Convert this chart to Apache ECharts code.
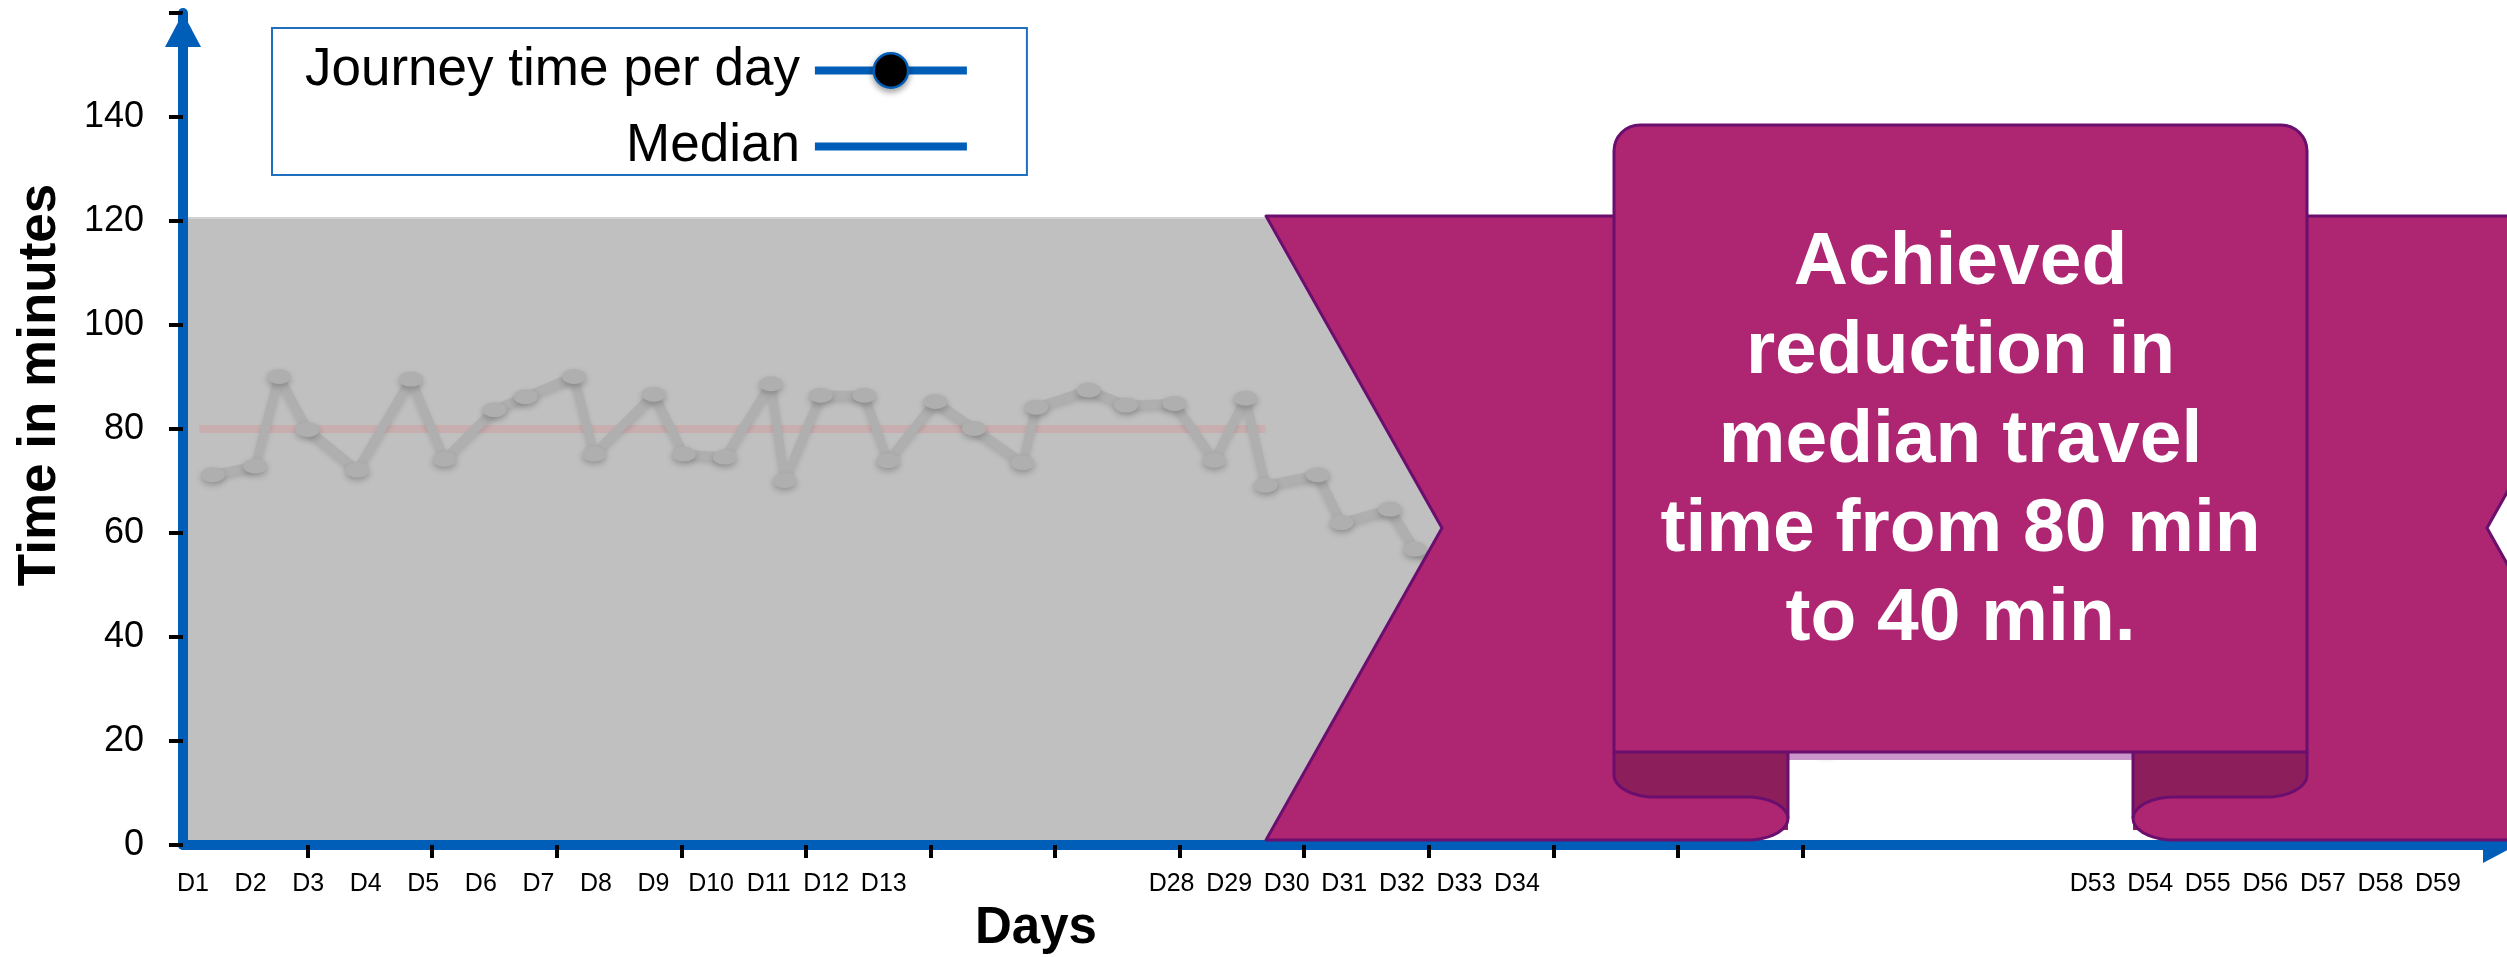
<!DOCTYPE html>
<html>
<head>
<meta charset="utf-8">
<title>Journey time per day</title>
<script src="https://cdn.jsdelivr.net/npm/echarts@6.0.0/dist/echarts.min.js"></script>
<style>
  html, body { margin: 0; padding: 0; background: #ffffff; }
  #chart { width: 2507px; height: 957px; }
</style>
</head>
<body>
<div id="chart"></div>
<script>
// ---- data -------------------------------------------------------------
// position of each measurement along the time axis (10 units per tick mark)
const journeyDay = [
  2.4, 5.8, 7.7, 10.0, 14.0, 18.3, 21.0, 25.0, 27.5, 31.4,
  33.0, 37.8, 40.2, 43.5, 47.2, 48.3, 51.2, 54.7, 56.6, 60.4,
  63.5, 67.4, 68.5, 72.7, 75.7, 79.6, 82.8, 85.3, 86.9, 91.1,
  93.0, 96.9, 98.9, 131.9
];
// journey time in minutes for each measurement
const journeyMinutes = [
  71.2, 72.9, 90.1, 79.9, 72.1, 89.6, 74.2, 83.7, 86.2, 90.1,
  75.2, 86.7, 75.2, 74.6, 88.7, 70.1, 86.5, 86.5, 73.9, 85.3,
  80.1, 73.5, 84.2, 87.5, 84.6, 84.9, 74.0, 85.9, 69.2, 71.2,
  62.0, 64.6, 56.9, 18.8
];
// median before and after the change (null = break between the two periods)
const medianDay = [1.3, 86.9, null, 100, 186];
const medianMinutes = [80, 80, null, 40, 40];

const dayLabels = [
  'D1', 'D2', 'D3', 'D4', 'D5', 'D6', 'D7', 'D8', 'D9', 'D10', 'D11', 'D12', 'D13',
  '', '', '', '',
  'D28', 'D29', 'D30', 'D31', 'D32', 'D33', 'D34',
  '', '', '', '', '', '', '', '', '',
  'D53', 'D54', 'D55', 'D56', 'D57', 'D58', 'D59'
];
const yLabelValues = [0, 20, 40, 60, 80, 100, 120, 140];
const xTickDays = [10, 20, 30, 40, 50, 60, 70, 80, 90, 100, 110, 120, 130];
const xAxisMax = 186;
const shadedUntilDay = 100;

// ---- styling ----------------------------------------------------------
const FONT = '"Liberation Sans", Arial, Helvetica, sans-serif';
const BLUE = '#005EB8';
const PURPLE = '#AE2572';
const PURPLE_DARK = '#8C1E5C';
const PURPLE_EDGE = '#6A0F6E';
const RIBBON_CX = 1960.5;

function arcPoints(cx, cy, rx, ry, a0, a1, n) {
  const pts = [];
  const steps = n || 18;
  for (let i = 0; i <= steps; i++) {
    const a = (a0 + (a1 - a0) * i / steps) * Math.PI / 180;
    pts.push([cx + rx * Math.cos(a), cy + ry * Math.sin(a)]);
  }
  return pts;
}
const mirror = pts => pts.map(([x, y]) => [2 * RIBBON_CX - x, y]);

// ribbon geometry (left half; the right half is mirrored about the panel centre)
const curlOuter = arcPoints(1747, 818.5, 41, 21.5, 90, -90);
const curlInner = arcPoints(1655, 775, 41, 22, 90, 180);
const curlFront = arcPoints(1747, 818.5, 41, 21.5, -90, 90);

const leftTail = [[1266, 216], [1700, 216], [1700, 840], [1266, 840], [1442, 528]];
const rightTail = [[2220, 216], [2662, 216], [2487, 528], [2662, 840], [2220, 840]];
const leftFold = [[1614, 752], [1788, 752], [1788, 830], [1655, 830]].concat(curlInner);
const leftFront = [[1600, 797]].concat(curlFront, [[1600, 840]]);
const leftOutline = [[1614, 216], [1266, 216], [1442, 528], [1266, 840]]
  .concat(curlOuter, curlInner, [[1614, 752]]);
const rightOutline = [[2307, 216], [2662, 216], [2487, 528], [2662, 840]]
  .concat(mirror(curlOuter), mirror(curlInner), [[2307, 752]]);

let zz = 0;
const ribbonPart = (el) => Object.assign({ z: 5, z2: zz++, silent: true }, el);
const edge = { stroke: PURPLE_EDGE, lineWidth: 3, fill: null, lineJoin: 'round' };

const graphics = [
  // grey chevron behind the first period
  { type: 'polygon', z: -1, silent: true,
    shape: { points: [[184, 218], [1266, 218], [1442, 528], [1266, 841], [184, 841]] },
    style: { fill: '#C0C0C0', stroke: '#D2D2D2', lineWidth: 2 } },
  ribbonPart({ type: 'polygon', shape: { points: leftTail }, style: { fill: PURPLE } }),
  ribbonPart({ type: 'polygon', shape: { points: rightTail }, style: { fill: PURPLE } }),
  ribbonPart({ type: 'rect', shape: { x: 1788, y: 752, width: 345, height: 8 }, style: { fill: '#C996C9' } }),
  ribbonPart({ type: 'polygon', shape: { points: leftFold }, style: { fill: PURPLE_DARK } }),
  ribbonPart({ type: 'polygon', shape: { points: mirror(leftFold) }, style: { fill: PURPLE_DARK } }),
  ribbonPart({ type: 'polygon', shape: { points: leftFront }, style: { fill: PURPLE } }),
  ribbonPart({ type: 'polygon', shape: { points: mirror(leftFront) }, style: { fill: PURPLE } }),
  ribbonPart({ type: 'polyline', shape: { points: leftOutline }, style: edge }),
  ribbonPart({ type: 'polyline', shape: { points: rightOutline }, style: edge }),
  ribbonPart({ type: 'line', shape: { x1: 1788, y1: 752, x2: 1788, y2: 818 }, style: edge }),
  ribbonPart({ type: 'line', shape: { x1: 2133, y1: 752, x2: 2133, y2: 818 }, style: edge }),
  ribbonPart({ type: 'rect', shape: { x: 1614, y: 125, width: 693, height: 627, r: [26, 26, 0, 0] },
    style: { fill: PURPLE, stroke: PURPLE_EDGE, lineWidth: 3 } }),
  ribbonPart({ type: 'text', x: RIBBON_CX, y: 441,
    style: { text: 'Achieved\nreduction in\nmedian travel\ntime from 80 min\nto 40 min.',
      fill: '#FFFFFF', font: 'bold 75px ' + FONT, align: 'center', verticalAlign: 'middle', lineHeight: 89 } }),
  // axis titles
  { type: 'text', x: 40, y: 385, rotation: Math.PI / 2, silent: true,
    style: { text: 'Time in minutes', fill: '#000', font: 'bold 53px ' + FONT, align: 'center', verticalAlign: 'middle' } },
  { type: 'text', x: 1036, y: 929, silent: true,
    style: { text: 'Days', fill: '#000', font: 'bold 51px ' + FONT, align: 'center', verticalAlign: 'middle' } }
];

const chart = echarts.init(document.getElementById('chart'), null, { renderer: 'canvas' });

chart.setOption({
  animation: false,
  backgroundColor: '#FFFFFF',
  textStyle: { fontFamily: FONT },
  grid: [
    { left: 183, top: 13, width: 2317, height: 832 },
    { left: 193, top: 13, width: 2245, height: 832 }
  ],
  legend: {
    orient: 'vertical', align: 'right', left: 272, top: 28,
    itemWidth: 152, itemHeight: 43, itemGap: 23,
    padding: [16, 56, 2, 33],
    borderColor: '#1F6FC0', borderWidth: 2,
    selectedMode: false,
    textStyle: { fontSize: 53, color: '#000', fontFamily: FONT, padding: [0, 10, 0, 0] },
    data: [
      { name: 'Journey time per day',
        itemStyle: { color: '#000', borderColor: BLUE, borderWidth: 2.5,
          shadowBlur: 6, shadowColor: 'rgba(0,0,0,0.35)', shadowOffsetY: 3 },
        lineStyle: { color: BLUE, width: 8 } },
      { name: 'Median',
        itemStyle: { color: 'rgba(0,0,0,0)', borderWidth: 0 },
        lineStyle: { color: BLUE, width: 8 } }
    ]
  },
  xAxis: [
    { type: 'value', gridIndex: 0, min: 0, max: xAxisMax,
      axisLine: { show: true, onZero: false, lineStyle: { color: BLUE, width: 10 },
        symbol: ['none', 'triangle'], symbolSize: [36, 34] },
      axisTick: { show: true, customValues: xTickDays, length: 13, lineStyle: { color: '#000', width: 4 } },
      axisLabel: { show: false },
      splitLine: { show: false } },
    { type: 'category', gridIndex: 1, data: dayLabels, boundaryGap: false,
      axisLine: { show: false }, axisTick: { show: false },
      axisLabel: { interval: 0, fontSize: 25, color: '#000', margin: 27 },
      splitLine: { show: false } }
  ],
  yAxis: [
    { type: 'value', gridIndex: 0, min: 0, max: 160, interval: 20,
      axisLine: { show: true, lineStyle: { color: BLUE, width: 10 },
        symbol: ['none', 'triangle'], symbolSize: [36, 34], symbolOffset: [0, -17] },
      axisTick: { show: true, length: 14, lineStyle: { color: '#000', width: 4 } },
      axisLabel: { margin: 39, fontSize: 36, color: '#000', fontFamily: FONT,
        formatter: v => (yLabelValues.indexOf(v) >= 0 ? String(v) : '') },
      splitLine: { show: false } },
    { type: 'value', gridIndex: 1, min: 0, max: 160, show: false }
  ],
  visualMap: [
    { type: 'piecewise', show: false, seriesIndex: 0, dimension: 0,
      pieces: [{ gte: 0, lt: shadedUntilDay, color: '#AFAFAF' },
               { gte: shadedUntilDay, lte: xAxisMax, color: '#000000' }] },
    { type: 'piecewise', show: false, seriesIndex: 1, dimension: 0,
      pieces: [{ gte: 0, lt: shadedUntilDay, color: '#C8AEAE' },
               { gte: shadedUntilDay, lte: xAxisMax, color: BLUE }] }
  ],
  series: [
    { name: 'Journey time per day', type: 'line', xAxisIndex: 0, yAxisIndex: 0, z: 3,
      data: journeyDay.map((d, i) => [d, journeyMinutes[i]]),
      symbol: 'circle', symbolSize: [24, 15], showSymbol: true, showAllSymbol: true,
      lineStyle: { width: 9, shadowBlur: 5, shadowColor: 'rgba(0,0,0,0.12)', shadowOffsetY: 3 },
      itemStyle: { shadowBlur: 6, shadowColor: 'rgba(0,0,0,0.22)', shadowOffsetY: 3 },
      emphasis: { disabled: true } },
    { name: 'Median', type: 'line', xAxisIndex: 0, yAxisIndex: 0, z: 2,
      data: medianDay.map((d, i) => (d === null ? ['-', '-'] : [d, medianMinutes[i]])),
      symbol: 'none', connectNulls: false,
      lineStyle: { width: 8 },
      emphasis: { disabled: true } }
  ],
  graphic: { elements: graphics }
});
</script>
</body>
</html>
